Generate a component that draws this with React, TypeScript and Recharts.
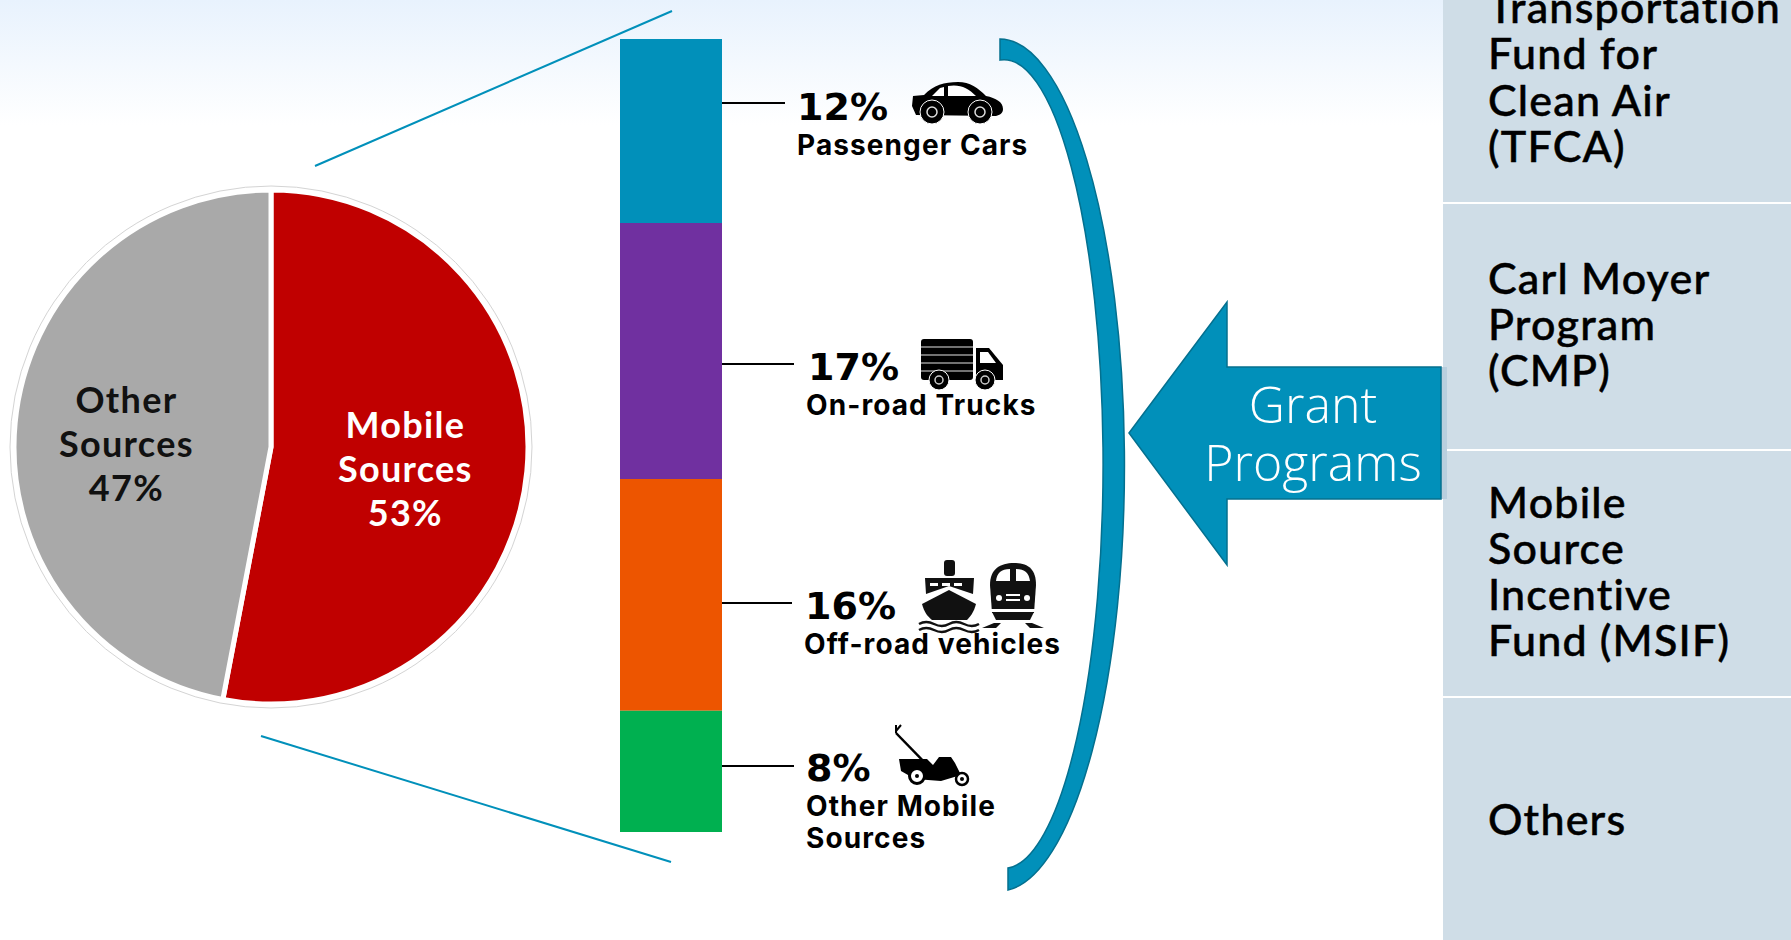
import { Bar, BarChart, Cell, Pie, PieChart, XAxis, YAxis } from 'recharts';

// pie: share of emissions
const pieNames = ['Mobile', 'Other'];
const pieValues = [53, 47];
const pieColors = ['#c00000', '#a9a9a9'];

// bar heights, they differ a little from the printed percents
const barKeys = ['passenger', 'trucks', 'offroad', 'other'];
const barValues = [12.3, 17.1, 15.5, 8.1];
const barColors = ['#0190ba', '#7030a0', '#ed5500', '#00b050'];

const pieData = pieNames.map((name, i) => ({ name, value: pieValues[i] }));
const barData = [Object.fromEntries(barKeys.map((k, i) => [k, barValues[i]]))];

const tableRows = ['Transportation', 'Fund for', 'Clean Air', '(TFCA)', 'Carl Moyer', 'Program', '(CMP)', 'Mobile', 'Source', 'Incentive', 'Fund (MSIF)', 'Others'];
const arrowLines = ['Grant', 'Programs'];

const BLUE = '#0190ba';
const tableFont = 'Lato, sans-serif';
const labelFont = 'Inter, sans-serif';

const renderPieLabel = ({ cx, cy, midAngle, outerRadius, index }: any) => {
	const rad = (-midAngle * Math.PI) / 180;
	const reach = index === 0 ? 0.525 : 0.565;
	const x = cx + outerRadius * reach * Math.cos(rad);
	const y = cy + outerRadius * reach * Math.sin(rad);
	const lines = index === 0 ? ['Mobile', 'Sources', '53%'] : ['Other', 'Sources', '47%'];
	return (
		<text x={x} textAnchor="middle" fontFamily={tableFont} fontSize={36} fontWeight={700} letterSpacing={1.3} fill={index === 0 ? '#fff' : '#111'}>
			{lines.map((l, i) => (
				<tspan key={l} x={x} y={y + (index === 0 ? -22 : -20) + i * 44}>
					{l}
				</tspan>
			))}
		</text>
	);
};

function Callout({ x, y, lineY, lineEnd, pct, name, nameX, nameY }: any) {
	const names = name.split('|');
	return (
		<g fill="#000">
			<line x1={722} x2={lineEnd} y1={lineY} y2={lineY} stroke="#000" strokeWidth={2} />
			<text x={x} y={y} fontFamily="'DejaVu Sans', sans-serif" fontSize={38} fontWeight={700}>
				{pct}
			</text>
			{names.map((n: string, i: number) => (
				<text key={n} x={nameX} y={nameY + i * 32} fontFamily={labelFont} fontSize={28} fontWeight={700} letterSpacing={1.1}>
					{n}
				</text>
			))}
		</g>
	);
}

function CarIcon() {
	return (
		<g transform="translate(910,82)">
			<path d="M2 24 L3 14 L14 13 C24 3 34 0 48 0 C60 0 68 6 76 14 C86 16 93 20 93 27 C93 31 90 33 86 34 L6 33 Z" fill="#000" />
			<path d="M22 14 L30 6 L34 5 L34 14 Z M38 4 C50 2 58 6 66 14 L38 14 Z" fill="#fff" />
			<circle cx={22} cy={30} r={12} fill="#000" stroke="#fff" strokeWidth={1} />
			<circle cx={22} cy={30} r={5} fill="#000" stroke="#ddd" strokeWidth={1.5} />
			<circle cx={70} cy={30} r={12} fill="#000" stroke="#fff" strokeWidth={1} />
			<circle cx={70} cy={30} r={5} fill="#000" stroke="#ddd" strokeWidth={1.5} />
		</g>
	);
}

function TruckIcon() {
	return (
		<g transform="translate(921,339)">
			<rect x={0} y={0} width={52} height={41} rx={3} fill="#000" />
			{[8, 16, 24, 32].map((s) => (
				<line key={s} x1={0} x2={52} y1={s} y2={s} stroke="#999" strokeWidth={1.5} />
			))}
			<path d="M55 9 L68 9 L82 26 L82 41 L55 41 Z" fill="#000" />
			<path d="M59 13 L67 13 L75 24 L59 24 Z" fill="#fff" />
			<circle cx={18} cy={41} r={10} fill="#000" stroke="#fff" strokeWidth={1} />
			<circle cx={18} cy={41} r={4} fill="#000" stroke="#ccc" strokeWidth={1.5} />
			<circle cx={64} cy={41} r={10} fill="#000" stroke="#fff" strokeWidth={1} />
			<circle cx={64} cy={41} r={4} fill="#000" stroke="#ccc" strokeWidth={1.5} />
		</g>
	);
}

function ShipIcon() {
	return (
		<g transform="translate(919,560)" fill="#111">
			<rect x={25} y={0} width={11} height={16} rx={3} />
			<path d="M6 18 L55 18 L54 34 L30 26 L7 34 Z" />
			<path d="M3 44 L30 30 L57 44 C55 52 51 57 48 60 L13 60 C9 57 5 52 3 44 Z" />
			<path d="M11 23 H19 V26 H11 Z M23 23 H31 V26 H23 Z M35 23 H43 V26 H35 Z" fill="#fff" />
			<path d="M0 64 Q7 60 15 64 T30 64 T45 64 T60 64 M0 70 Q7 66 15 70 T30 70 T45 70 T60 70" fill="none" stroke="#111" strokeWidth={2.5} />
		</g>
	);
}

function TrainIcon() {
	return (
		<g transform="translate(982,563)" fill="#111">
			<path d="M10 50 L8 22 C8 6 18 0 32 0 C46 0 54 6 54 22 L52 50 Z" />
			<path d="M14 18 C15 10 19 6 28 6 L28 18 Z M34 6 C43 6 47 10 48 18 L34 18 Z" fill="#fff" />
			<circle cx={17} cy={35} r={3} fill="#fff" />
			<circle cx={45} cy={35} r={3} fill="#fff" />
			<path d="M24 32 H38 M24 37 H38" stroke="#fff" strokeWidth={2} />
			<path d="M8 46 H54 V49 H8 Z" fill="#fff" />
			<path d="M10 49 H52 L48 57 H14 Z" />
			<path d="M0 65 L12 60 L19 60 L14 65 Z M62 65 L50 60 L43 60 L48 65 Z" />
		</g>
	);
}

function MowerIcon() {
	return (
		<g transform="translate(891,721)">
			<path d="M5 12 L40 48" stroke="#000" strokeWidth={2.5} fill="none" />
			<path d="M5 12 L5 4 M5 10 L10 4" stroke="#000" strokeWidth={2} fill="none" />
			<path d="M8 38 L36 38 L42 44 L48 36 L60 36 L64 42 L70 54 L50 60 L24 58 L10 50 Z" fill="#000" />
			<circle cx={26} cy={55} r={7.5} fill="#fff" stroke="#000" strokeWidth={3} />
			<circle cx={26} cy={55} r={2} fill="#000" />
			<circle cx={71} cy={58} r={6} fill="#fff" stroke="#000" strokeWidth={2.5} />
			<circle cx={71} cy={58} r={2} fill="#000" />
		</g>
	);
}

function Decor() {
	return (
		<svg width={1791} height={940} style={{ position: 'absolute', left: 0, top: 0 }}>
			<defs>
				<linearGradient id="topFade" x1="0" y1="0" x2="0" y2="1">
					<stop offset="0" stopColor="#e8f2fd" />
					<stop offset="1" stopColor="#ffffff" />
				</linearGradient>
			</defs>
			<rect x={0} y={0} width={1791} height={125} fill="url(#topFade)" />

			{/* zoom lines from the pie to the bar */}
			<line x1={315} y1={166} x2={672} y2={11} stroke={BLUE} strokeWidth={2} />
			<line x1={261} y1={736} x2={671} y2={862} stroke={BLUE} strokeWidth={2} />
			<circle cx={271} cy={447} r={261} fill="#fff" stroke="#d4d4d4" strokeWidth={1} />

			{/* bracket */}
			<path d="M1000 39 A 125 426 0 0 1 1008 890 L1008 868 A 99 404 0 0 0 1000 60 Z" fill={BLUE} stroke="#04708f" strokeWidth={1.5} />

			{/* right table */}
			<rect x={1443} y={0} width={348} height={940} fill="#cfdde7" />
			<rect x={1443} y={202} width={348} height={2} fill="#fff" />
			<rect x={1443} y={449} width={348} height={2} fill="#fff" />
			<rect x={1443} y={696} width={348} height={2} fill="#fff" />
			<g fontFamily={tableFont} fontSize={43} fontWeight={500} letterSpacing={1.2} fill="#000" stroke="#000" strokeWidth={0.5}>
				{tableRows.map((t, i) => (
					<text key={t} x={1488} y={[23, 69, 116, 162, 294, 340, 386, 518, 564, 610, 656, 835][i]}>
						{t}
					</text>
				))}
			</g>

			{/* arrow */}
			<rect x={1441} y={367} width={6} height={132} fill="#b9cfde" />
			<path d="M1129 433 L1227 302 L1227 367 L1441 367 L1441 499 L1227 499 L1227 565 Z" fill={BLUE} stroke="#04708f" strokeWidth={1.5} />
			<g fontFamily="'Open Sans', sans-serif" fontSize={50} fontWeight={300} fill="#fff" textAnchor="middle">
				{arrowLines.map((t, i) => (
					<text key={t} x={1313} y={423 + i * 58}>
						{t}
					</text>
				))}
			</g>

			<Callout x={797} y={120} lineY={103} lineEnd={785} pct="12%" name="Passenger Cars" nameX={797} nameY={155} />
			<Callout x={808} y={380} lineY={364} lineEnd={794} pct="17%" name="On-road Trucks" nameX={806} nameY={415} />
			<Callout x={805} y={619} lineY={603} lineEnd={792} pct="16%" name="Off-road vehicles" nameX={804} nameY={654} />
			<Callout x={806} y={781} lineY={766} lineEnd={794} pct="8%" name="Other Mobile|Sources" nameX={806} nameY={816} />
			<CarIcon />
			<TruckIcon />
			<ShipIcon />
			<TrainIcon />
			<MowerIcon />
		</svg>
	);
}

export default function App() {
	return (
		<div style={{ position: 'absolute', left: 0, top: 0, width: 1791, height: 940, background: '#fff', overflow: 'hidden' }}>
			<Decor />
			<div style={{ position: 'absolute', left: 0, top: 170 }}>
				<PieChart width={560} height={560} margin={{ top: 0, right: 0, bottom: 0, left: 0 }}>
					<Pie
						data={pieData}
						dataKey="value"
						cx={271}
						cy={277}
						innerRadius={0}
						outerRadius={257}
						startAngle={90}
						endAngle={-270}
						stroke="#fff"
						strokeWidth={5}
						label={renderPieLabel}
						labelLine={false}
						isAnimationActive={false}
					>
						{pieData.map((d, i) => (
							<Cell key={d.name} fill={pieColors[i]} />
						))}
					</Pie>
				</PieChart>
			</div>
			<div style={{ position: 'absolute', left: 620, top: 39 }}>
				<BarChart width={102} height={793} data={barData} margin={{ top: 0, right: 0, bottom: 0, left: 0 }} barCategoryGap={0}>
					<XAxis hide type="category" />
					<YAxis hide reversed domain={[0, 53]} />
					{barKeys.map((k, i) => (
						<Bar key={k} dataKey={k} stackId="a" fill={barColors[i]} isAnimationActive={false} />
					))}
				</BarChart>
			</div>
		</div>
	);
}
